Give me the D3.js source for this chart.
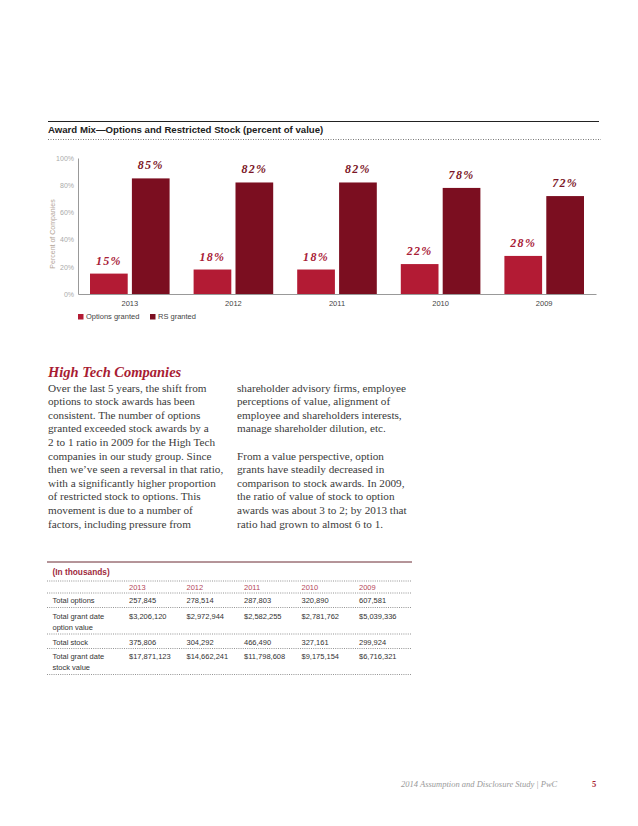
<!DOCTYPE html>
<html>
<head>
<meta charset="utf-8">
<script src="https://cdn.jsdelivr.net/npm/d3@7"></script>
<style>
  body { margin: 0; background: #fff; }
  svg { display: block; }
</style>
</head>
<body>
<svg id="page" width="638" height="826"></svg>
<script>
// chart values
const years = ['2013', '2012', '2011', '2010', '2009'];
const optionsGranted = [15, 18, 18, 22, 28];
const rsGranted = [85, 82, 82, 78, 72];
const yTicks = [0, 20, 40, 60, 80, 100];
const seriesNames = ['Options granted', 'RS granted'];

// table values (in thousands)
const rowLabels = [['Total options'], ['Total grant date', 'option value'], ['Total stock'], ['Total grant date', 'stock value']];
const totalOptions = ['257,845', '278,514', '287,803', '320,890', '607,581'];
const optionValue = ['$3,206,120', '$2,972,944', '$2,582,255', '$2,781,762', '$5,039,336'];
const totalStock = ['375,806', '304,292', '466,490', '327,161', '299,924'];
const stockValue = ['$17,871,123', '$14,662,241', '$11,798,608', '$9,175,154', '$6,716,321'];

const leftCol = [
  'Over the last 5 years, the shift from',
  'options to stock awards has been',
  'consistent. The number of options',
  'granted exceeded stock awards by a',
  '2 to 1 ratio in 2009 for the High Tech',
  'companies in our study group. Since',
  'then we\u2019ve seen a reversal in that ratio,',
  'with a significantly higher proportion',
  'of restricted stock to options. This',
  'movement is due to a number of',
  'factors, including pressure from'
];
const rightCol = [
  'shareholder advisory firms, employee',
  'perceptions of value, alignment of',
  'employee and shareholders interests,',
  'manage shareholder dilution, etc.',
  '',
  'From a value perspective, option',
  'grants have steadily decreased in',
  'comparison to stock awards. In 2009,',
  'the ratio of value of stock to option',
  'awards was about 3 to 2; by 2013 that',
  'ratio had grown to almost 6 to 1.'
];

const optColor = '#b31b34';
const rsColor = '#7b0e20';
const sans = 'Liberation Sans, Arial, sans-serif';
const serif = 'Liberation Serif, Times New Roman, serif';

const svg = d3.select('#page');

// ---- chart header ----
svg.append('line')
  .attr('x1', 48).attr('x2', 599).attr('y1', 121.5).attr('y2', 121.5)
  .attr('stroke', '#222').attr('stroke-width', 1);
svg.append('text')
  .attr('x', 48).attr('y', 133)
  .attr('font-family', sans).attr('font-weight', 'bold').attr('font-size', 9.65)
  .attr('fill', '#222')
  .text('Award Mix\u2014Options and Restricted Stock (percent of value)');
svg.append('line')
  .attr('x1', 48).attr('x2', 601).attr('y1', 139.5).attr('y2', 139.5)
  .attr('stroke', '#555').attr('stroke-width', 0.8).attr('stroke-dasharray', '1,1.5');

// ---- bar chart ----
const x0 = d3.scaleBand().domain(years).range([78, 596]);
const x1 = d3.scaleBand().domain(seriesNames).range([12, x0.bandwidth() - 12]).paddingInner(0.1);
const y = d3.scaleLinear().domain([0, 100]).range([294, 158]);

const yAxis = svg.append('g')
  .attr('transform', 'translate(78,0)')
  .call(d3.axisLeft(y).tickValues(yTicks).tickSize(0).tickPadding(4).tickFormat(d => d + '%'));
yAxis.select('.domain').attr('stroke', '#999');
yAxis.selectAll('text')
  .attr('font-family', sans).attr('font-size', 7).attr('fill', '#aaa');

svg.append('text')
  .attr('transform', 'translate(55,234) rotate(-90)')
  .attr('text-anchor', 'middle')
  .attr('font-family', sans).attr('font-size', 7).attr('fill', '#b3a597')
  .text('Percent of Companies');

const groups = svg.selectAll('g.year')
  .data(years.map((yr, i) => ({ yr, vals: [optionsGranted[i], rsGranted[i]] })))
  .join('g')
  .attr('class', 'year')
  .attr('transform', d => `translate(${x0(d.yr)},0)`);

groups.selectAll('rect')
  .data(d => d.vals.map((v, j) => ({ name: seriesNames[j], v })))
  .join('rect')
  .attr('x', d => x1(d.name))
  .attr('width', x1.bandwidth())
  .attr('y', d => y(d.v))
  .attr('height', d => y(0) - y(d.v))
  .attr('fill', d => d.name === seriesNames[0] ? optColor : rsColor);

groups.selectAll('text.val')
  .data(d => d.vals.map((v, j) => ({ name: seriesNames[j], v })))
  .join('text')
  .attr('class', 'val')
  .attr('x', d => x1(d.name) + x1.bandwidth() / 2)
  .attr('y', d => y(d.v) - 9)
  .attr('text-anchor', 'middle')
  .attr('font-family', serif).attr('font-style', 'italic').attr('font-weight', 'bold')
  .attr('font-size', 12).attr('letter-spacing', 1.3)
  .attr('fill', d => d.name === seriesNames[0] ? '#a82036' : '#7b1526')
  .text(d => d.v + '%');

const xAxis = svg.append('g')
  .attr('transform', 'translate(0,294)')
  .call(d3.axisBottom(x0).tickSize(0).tickPadding(7));
xAxis.select('.domain').attr('stroke', '#999');
xAxis.selectAll('text')
  .attr('font-family', sans).attr('font-size', 7.5).attr('fill', '#444');

// legend
const legend = svg.selectAll('g.legend')
  .data(seriesNames)
  .join('g')
  .attr('class', 'legend')
  .attr('transform', (d, i) => `translate(${i === 0 ? 78 : 150},314)`);
legend.append('rect')
  .attr('width', 5.5).attr('height', 5.5)
  .attr('fill', (d, i) => i === 0 ? optColor : rsColor);
legend.append('text')
  .attr('x', 8).attr('y', 5.3)
  .attr('font-family', sans).attr('font-size', 7.5).attr('fill', '#444')
  .text(d => d);

// ---- body text ----
svg.append('text')
  .attr('x', 48).attr('y', 377)
  .attr('font-family', serif).attr('font-style', 'italic').attr('font-weight', 'bold')
  .attr('font-size', 14.5).attr('fill', '#a81c33')
  .text('High Tech Companies');

[[leftCol, 48], [rightCol, 237]].forEach(([lines, xPos]) => {
  svg.append('g').selectAll('text')
    .data(lines)
    .join('text')
    .attr('x', xPos)
    .attr('y', (d, i) => 391.5 + i * 13.6)
    .attr('font-family', serif).attr('font-size', 11.2).attr('fill', '#3a3a3a')
    .text(d => d);
});

// ---- table ----
const tX1 = 47, tX2 = 412;
const colX = d3.scalePoint().domain(years).range([129, 359]);

svg.append('line')
  .attr('x1', tX1).attr('x2', tX2).attr('y1', 562).attr('y2', 562)
  .attr('stroke', '#6b2a32').attr('stroke-width', 1);
svg.append('text')
  .attr('x', 52.5).attr('y', 575)
  .attr('font-family', sans).attr('font-weight', 'bold').attr('font-size', 8.3)
  .attr('fill', '#9e2a3c')
  .text('(In thousands)');

const dotted = [581, 593, 607.5, 634, 648.5, 674.5];
svg.selectAll('line.dot')
  .data(dotted)
  .join('line')
  .attr('class', 'dot')
  .attr('x1', tX1).attr('x2', tX2).attr('y1', d => d).attr('y2', d => d)
  .attr('stroke', '#666').attr('stroke-width', 0.7).attr('stroke-dasharray', '1,1.2');

svg.selectAll('text.yr')
  .data(years)
  .join('text')
  .attr('class', 'yr')
  .attr('x', d => colX(d)).attr('y', 589.5)
  .attr('font-family', sans).attr('font-size', 7.5).attr('fill', '#b5475a')
  .text(d => d);

const rowValues = [totalOptions, optionValue, totalStock, stockValue];
const rowY = [603, 619, 645, 659];
rowLabels.forEach((lbl, r) => {
  svg.append('g').selectAll('text')
    .data(lbl)
    .join('text')
    .attr('x', 52.5).attr('y', (d, k) => rowY[r] + k * 10.8)
    .attr('font-family', sans).attr('font-size', 7.5).attr('fill', '#333')
    .text(d => d);
  svg.append('g').selectAll('text')
    .data(rowValues[r])
    .join('text')
    .attr('x', (d, k) => colX(years[k])).attr('y', rowY[r])
    .attr('font-family', sans).attr('font-size', 7.5).attr('fill', '#333')
    .text(d => d);
});

// ---- footer ----
svg.append('text')
  .attr('x', 401).attr('y', 786.5)
  .attr('font-family', serif).attr('font-style', 'italic').attr('font-size', 8.5)
  .attr('fill', '#999')
  .text('2014 Assumption and Disclosure Study | PwC');
svg.append('text')
  .attr('x', 592).attr('y', 786.5)
  .attr('font-family', serif).attr('font-weight', 'bold').attr('font-size', 8.5)
  .attr('fill', '#a81c33')
  .text('5');
</script>
</body>
</html>
